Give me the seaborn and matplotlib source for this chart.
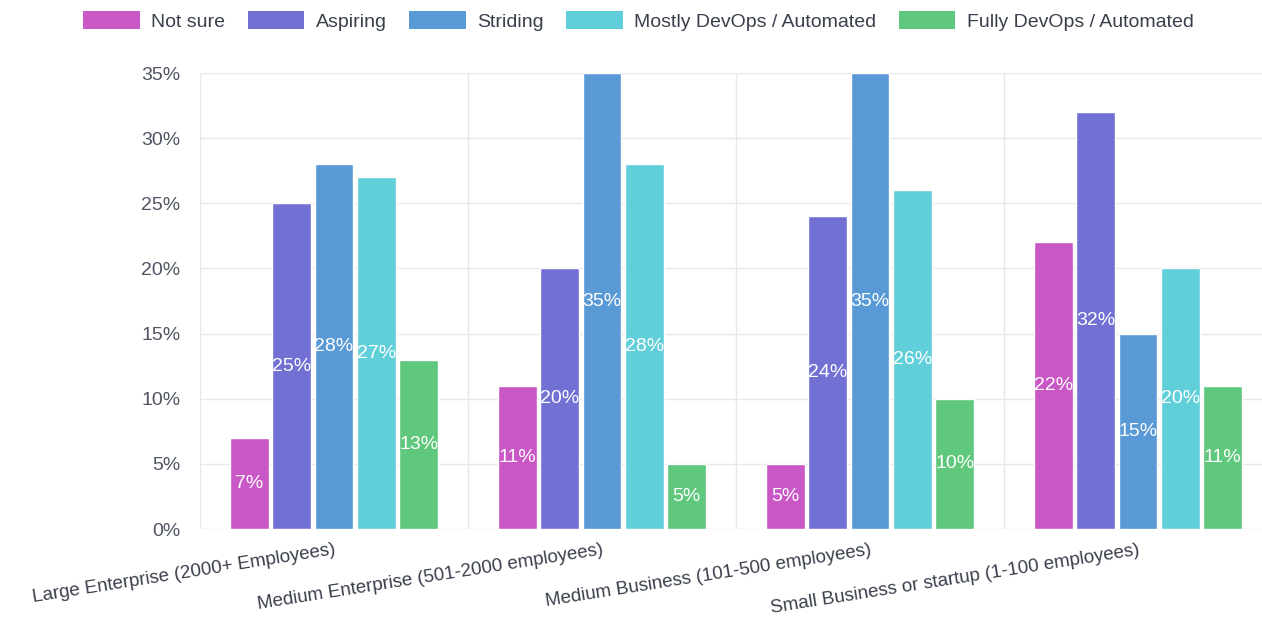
import matplotlib
matplotlib.use("Agg")
import matplotlib.pyplot as plt
import pandas as pd
import seaborn as sns
from matplotlib.patches import Patch

categories = [
    "Large Enterprise (2000+ Employees)",
    "Medium Enterprise (501-2000 employees)",
    "Medium Business (101-500 employees)",
    "Small Business or startup (1-100 employees)",
]
levels = ["Not sure", "Aspiring", "Striding", "Mostly DevOps / Automated", "Fully DevOps / Automated"]
not_sure = [7, 11, 5, 22]
aspiring = [25, 20, 24, 32]
striding = [28, 35, 35, 15]
mostly = [27, 28, 26, 20]
fully = [13, 5, 10, 11]
colors = ["#c957c5", "#7370d4", "#5899d6", "#60cfd9", "#60c87c"]

series = [not_sure, aspiring, striding, mostly, fully]
rows = []
for level, vals in zip(levels, series):
    for cat, v in zip(categories, vals):
        rows.append({"size": cat, "level": level, "pct": v})
df = pd.DataFrame(rows)

sns.set_style("white")
plt.rcParams["font.family"] = ["Liberation Sans", "DejaVu Sans"]

fig = plt.figure(figsize=(12.62, 6.18), dpi=100)
ax = fig.add_axes([200 / 1262, 89 / 618, 1072 / 1262, 456 / 618])

sns.barplot(
    data=df, x="size", y="pct", hue="level", order=categories, hue_order=levels,
    palette=colors, width=0.79, gap=0.08, saturation=1, legend=False, ax=ax,
)

for cont in ax.containers:
    ax.bar_label(cont, fmt="%d%%", label_type="center", color="white", fontsize=14)

grid_c = "#e6e8ee"
ax.set_ylim(0, 35)
ax.set_xlim(-0.5, 3.5)
ax.set_yticks(range(0, 36, 5))
ax.set_yticklabels([f"{v}%" for v in range(0, 36, 5)])
ax.set_xticks([-0.5, 0.5, 1.5, 2.5], minor=True)
ax.grid(axis="y", which="major", color=grid_c, lw=1)
ax.grid(axis="x", which="minor", color=grid_c, lw=1)
ax.grid(axis="x", which="major", visible=False)
ax.set_axisbelow(True)
for s in ax.spines.values():
    s.set_visible(False)
ax.tick_params(axis="y", length=10, color=grid_c, labelsize=14, labelcolor="#4f5463", pad=4)
ax.tick_params(axis="x", which="major", length=0, labelsize=13.5, labelcolor="#3a3f4c", pad=9)
ax.tick_params(axis="x", which="minor", length=10, color=grid_c)
ax.set_xticks(range(len(categories)))
ax.set_xticklabels(categories, rotation=9, ha="right", rotation_mode="anchor")
ax.set_xlabel("")
ax.set_ylabel("")

handles = [Patch(facecolor=c, edgecolor="none") for c in colors]
fig.legend(
    handles, levels, loc="upper center", bbox_to_anchor=(0.506, 1.01), ncol=5,
    frameon=False, fontsize=14, handlelength=2.9, handleheight=1.05,
    columnspacing=1.15, handletextpad=0.6, labelcolor="#3a3f4c",
)

fig.savefig("out.png", dpi=100)
